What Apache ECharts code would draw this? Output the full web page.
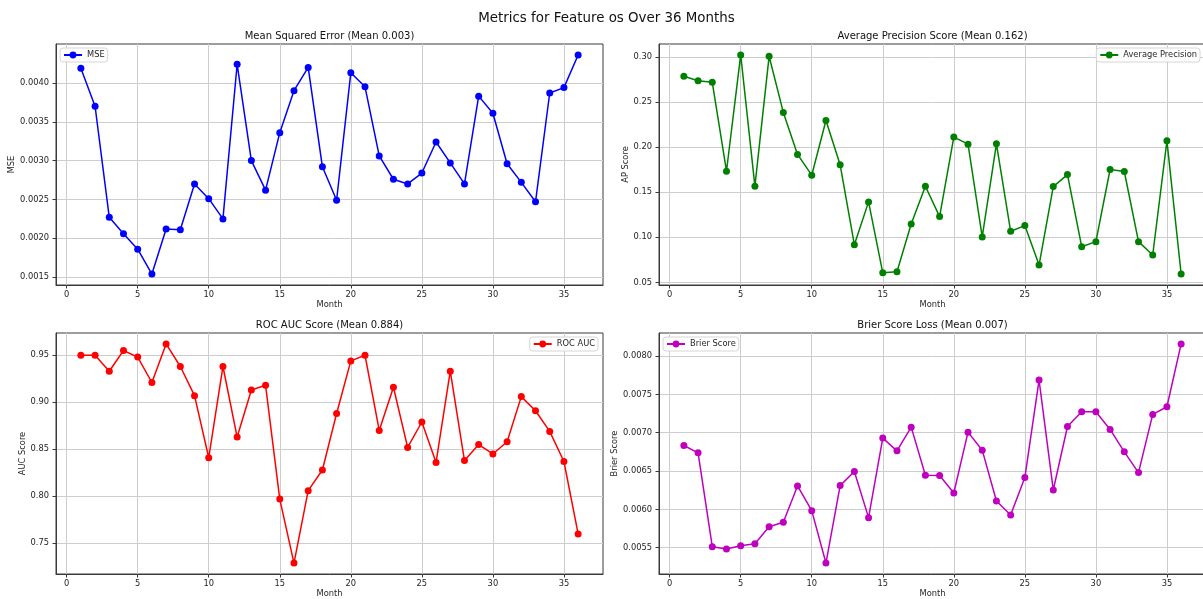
<!DOCTYPE html>
<html>
<head>
<meta charset="utf-8">
<script src="https://cdn.jsdelivr.net/npm/echarts@6/dist/echarts.min.js"></script>
<style>
  html, body { margin: 0; padding: 0; background: #ffffff; }
  #chart { width: 1203px; height: 599px; }
</style>
</head>
<body>
<div id="chart"></div>
<script>
// Monthly evaluation metrics for feature "os"
const months = [1, 2, 3, 4, 5, 6, 7, 8, 9, 10, 11, 12, 13, 14, 15, 16, 17, 18,
                19, 20, 21, 22, 23, 24, 25, 26, 27, 28, 29, 30, 31, 32, 33, 34, 35, 36];

const mseValues = [0.00419, 0.00370, 0.00227, 0.00206, 0.00186, 0.00154, 0.00212, 0.00211, 0.00270,
                   0.00251, 0.00225, 0.00424, 0.00300, 0.00262, 0.00336, 0.00390, 0.00420, 0.00292,
                   0.00249, 0.00413, 0.00395, 0.00306, 0.00276, 0.00270, 0.00284, 0.00324, 0.00297,
                   0.00270, 0.00383, 0.00361, 0.00296, 0.00272, 0.00247, 0.00387, 0.00394, 0.00436];

const apValues = [0.2785, 0.2737, 0.2719, 0.1733, 0.3022, 0.1567, 0.3007, 0.2385, 0.1919,
                  0.1689, 0.2296, 0.1804, 0.0919, 0.1393, 0.0607, 0.0619, 0.1148, 0.1567,
                  0.1230, 0.2111, 0.2033, 0.1004, 0.2037, 0.1067, 0.1130, 0.0693, 0.1563,
                  0.1696, 0.0896, 0.0952, 0.1752, 0.1730, 0.0952, 0.0804, 0.2070, 0.0593];

const aucValues = [0.950, 0.950, 0.933, 0.955, 0.948, 0.921, 0.962, 0.938, 0.907,
                   0.841, 0.938, 0.863, 0.913, 0.918, 0.797, 0.729, 0.806, 0.828,
                   0.888, 0.944, 0.950, 0.870, 0.916, 0.852, 0.879, 0.836, 0.933,
                   0.838, 0.855, 0.845, 0.858, 0.906, 0.891, 0.869, 0.837, 0.760];

const brierValues = [0.006833, 0.006737, 0.005513, 0.005483, 0.005526, 0.005552, 0.005774, 0.005831, 0.006306,
                     0.005983, 0.005300, 0.006310, 0.006493, 0.005892, 0.006929, 0.006763, 0.007072, 0.006445,
                     0.006441, 0.006214, 0.007007, 0.006772, 0.006110, 0.005927, 0.006415, 0.007686, 0.006253,
                     0.007081, 0.007273, 0.007273, 0.007042, 0.006750, 0.006480, 0.007238, 0.007338, 0.008157];

// Tick positions
const monthTicks = [0, 5, 10, 15, 20, 25, 30, 35];
const mseTicks = [0.0015, 0.0020, 0.0025, 0.0030, 0.0035, 0.0040];
const apTicks = [0.05, 0.10, 0.15, 0.20, 0.25, 0.30];
const aucTicks = [0.75, 0.80, 0.85, 0.90, 0.95];
const brierTicks = [0.0055, 0.0060, 0.0065, 0.0070, 0.0075, 0.0080];

const FONT = 'DejaVu Sans';
const TEXT = '#262626';
const SPINE = '#3a3a3a';
const GRIDLINE = '#cdcdcd';
const PANEL_W = 547;
const PANEL_H = 241;

const panels = [
  { title: 'Mean Squared Error', series: 'MSE', yName: 'MSE', values: mseValues, ticks: mseTicks,
    digits: 4, color: '#0000ff', left: 56, top: 44, yNameGap: 38, legend: { left: 60, top: 48 } },
  { title: 'Average Precision Score', series: 'Average Precision', yName: 'AP Score', values: apValues, ticks: apTicks,
    digits: 2, color: '#008000', left: 659, top: 44, yNameGap: 28, legend: { right: 3, top: 48 } },
  { title: 'ROC AUC Score', series: 'ROC AUC', yName: 'AUC Score', values: aucValues, ticks: aucTicks,
    digits: 2, color: '#ff0000', left: 56, top: 333, yNameGap: 29, legend: { right: 605, top: 337 } },
  { title: 'Brier Score Loss', series: 'Brier Score', yName: 'Brier Score', values: brierValues, ticks: brierTicks,
    digits: 4, color: '#bf00bf', left: 659, top: 333, yNameGap: 39, legend: { left: 663, top: 337 } }
];

// Axis limits padded by 5% of the data span on each side
function padded(arr) {
  const lo = Math.min.apply(null, arr), hi = Math.max.apply(null, arr);
  const pad = (hi - lo) * 0.05;
  return [lo - pad, hi + pad];
}
const mean = arr => arr.reduce((a, b) => a + b, 0) / arr.length;

const xRange = padded(months);

const option = {
  animation: false,
  backgroundColor: '#ffffff',
  textStyle: { fontFamily: FONT },
  grid: [], xAxis: [], yAxis: [], series: [], legend: [],
  graphic: [{
    type: 'text', x: 606.5, y: 18.5,
    style: { text: 'Metrics for Feature os Over 36 Months', font: '13.4px "DejaVu Sans"',
             fill: '#111', align: 'center', verticalAlign: 'middle' }
  }]
};

panels.forEach((p, i) => {
  const yRange = padded(p.values);
  option.grid.push({
    left: p.left, top: p.top, width: PANEL_W, height: PANEL_H,
    show: true, borderColor: SPINE, borderWidth: 1, backgroundColor: 'transparent',
    containLabel: false, outerBoundsMode: 'none'
  });
  option.xAxis.push({
    type: 'value', gridIndex: i, min: xRange[0], max: xRange[1],
    name: 'Month', nameLocation: 'middle', nameGap: 16,
    nameTextStyle: { color: TEXT, fontSize: 8.3, fontFamily: FONT },
    axisLine: { show: true, onZero: false, lineStyle: { color: SPINE, width: 1 } },
    axisTick: { show: true, inside: false, length: 3.5, customValues: monthTicks, lineStyle: { color: SPINE, width: 1 } },
    axisLabel: { show: true, margin: 6, customValues: monthTicks, color: TEXT, fontSize: 8.3, fontFamily: FONT,
                 formatter: v => String(v) },
    splitLine: { show: true, lineStyle: { color: GRIDLINE, width: 1 } }
  });
  option.yAxis.push({
    type: 'value', gridIndex: i, min: yRange[0], max: yRange[1],
    name: p.yName, nameLocation: 'middle', nameGap: p.yNameGap, nameRotate: 90,
    nameTextStyle: { color: TEXT, fontSize: 8.3, fontFamily: FONT },
    axisLine: { show: true, onZero: false, lineStyle: { color: SPINE, width: 1 } },
    axisTick: { show: true, inside: false, length: 3.5, customValues: p.ticks, lineStyle: { color: SPINE, width: 1 } },
    axisLabel: { show: true, margin: 7, customValues: p.ticks, color: TEXT, fontSize: 8.3, fontFamily: FONT,
                 formatter: v => v.toFixed(p.digits) },
    splitLine: { show: true, lineStyle: { color: GRIDLINE, width: 1 } }
  });
  option.series.push({
    type: 'line', name: p.series, xAxisIndex: i, yAxisIndex: i,
    data: months.map((m, k) => [m, p.values[k]]),
    symbol: 'circle', symbolSize: 7, showSymbol: true,
    lineStyle: { color: p.color, width: 1.5 },
    itemStyle: { color: p.color, borderWidth: 0 },
    emphasis: { disabled: true }, z: 3
  });
  option.legend.push(Object.assign({
    data: [p.series], orient: 'horizontal',
    padding: [3, 3, 3, 3], itemWidth: 18, itemHeight: 8.5, itemGap: 5,
    backgroundColor: 'rgba(255,255,255,0.85)', borderColor: '#d6d6d6', borderWidth: 1, borderRadius: 3,
    textStyle: { color: TEXT, fontSize: 8.3, fontFamily: FONT },
    selectedMode: false
  }, p.legend));
  option.graphic.push({
    type: 'text', x: p.left + PANEL_W / 2, y: p.top - 8,
    style: { text: p.title + ' (Mean ' + mean(p.values).toFixed(3) + ')', font: '10px "DejaVu Sans"',
             fill: '#111', align: 'center', verticalAlign: 'middle' }
  });
});

const chart = echarts.init(document.getElementById('chart'), null, { renderer: 'canvas' });
chart.setOption(option);
</script>
</body>
</html>
